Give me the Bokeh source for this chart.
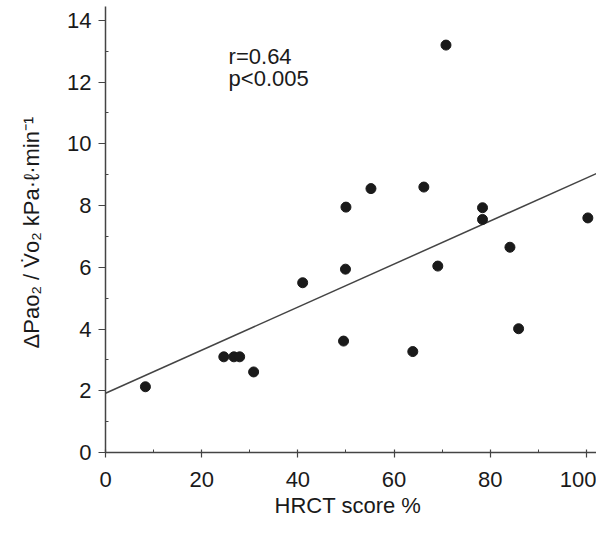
from bokeh.plotting import figure
from bokeh.models import Label, Range1d, FixedTicker
from bokeh.embed import file_html
from bokeh.resources import INLINE

# Data
hrct_score = [8.3, 24.6, 26.7, 27.9, 30.8, 41.0, 49.5, 49.9, 50.0, 55.2,
              63.9, 66.2, 69.1, 70.8, 78.4, 78.4, 84.1, 85.9, 100.3]
pao2_vo2 = [2.13, 3.10, 3.10, 3.10, 2.61, 5.50, 3.61, 5.94, 7.95, 8.55,
            3.27, 8.60, 6.04, 13.20, 7.93, 7.55, 6.65, 4.01, 7.60]
fit_x = [0.0, 102.1]
fit_y = [1.92, 9.04]
x_ticks = [0, 20, 40, 60, 80, 100]
x_minor = [10, 30, 50, 70, 90]
y_ticks = [0, 2, 4, 6, 8, 10, 12, 14]
y_minor = [1, 3, 5, 7, 9, 11, 13]
stats_lines = ["r=0.64", "p<0.005"]
stats_y = [12.83, 12.12]

FONT = "Liberation Sans"

p = figure(width=596, height=520, output_backend="svg", toolbar_location=None,
           x_range=Range1d(0, 102.1), y_range=Range1d(0, 14.45),
           min_border_left=105, min_border_right=0, min_border_top=6,
           min_border_bottom=66)
p.outline_line_color = None
p.xgrid.visible = False
p.ygrid.visible = False
p.background_fill_color = "white"

p.line(fit_x, fit_y, line_color="#444444", line_width=1.5)
p.scatter(hrct_score, pao2_vo2, size=10, fill_color="#1a1a1a", line_color="#1a1a1a")

for ax in (p.xaxis[0], p.yaxis[0]):
    ax.axis_line_color = "#444444"
    ax.axis_line_width = 1.5
    ax.major_tick_line_color = "#444444"
    ax.minor_tick_line_color = "#444444"
    ax.major_tick_line_width = 1.2
    ax.major_label_text_font = FONT
    ax.major_label_text_font_size = "22px"
    ax.major_label_text_color = "#1a1a1a"
    ax.axis_label_text_font = FONT
    ax.axis_label_text_font_size = "22px"
    ax.axis_label_text_font_style = "normal"
    ax.axis_label_text_color = "#1a1a1a"

p.xaxis.ticker = FixedTicker(ticks=x_ticks, minor_ticks=x_minor)
p.yaxis.ticker = FixedTicker(ticks=y_ticks, minor_ticks=y_minor)
p.xaxis.major_tick_in = 3
p.xaxis.major_tick_out = 5
p.xaxis.minor_tick_in = 3
p.xaxis.minor_tick_out = 0
p.yaxis.major_tick_in = 0
p.yaxis.major_tick_out = 7
p.yaxis.minor_tick_in = 3
p.yaxis.minor_tick_out = 0
p.xaxis.major_label_standoff = 14
p.yaxis.major_label_standoff = 7
p.xaxis.axis_label = "HRCT score  %"
p.yaxis.axis_label = "\u0394Pao\u2082 / V\u0307o\u2082  kPa\u00b7\u2113\u00b7min\u207b\u00b9"
p.xaxis.axis_label_standoff = 3
p.yaxis.axis_label_standoff = 20

for t, yy in zip(stats_lines, stats_y):
    p.add_layout(Label(x=25.6, y=yy, text=t, text_font=FONT,
                       text_font_size="22px", text_color="#1a1a1a",
                       text_baseline="alphabetic"))

open("out.html", "w").write(file_html(p, INLINE))
